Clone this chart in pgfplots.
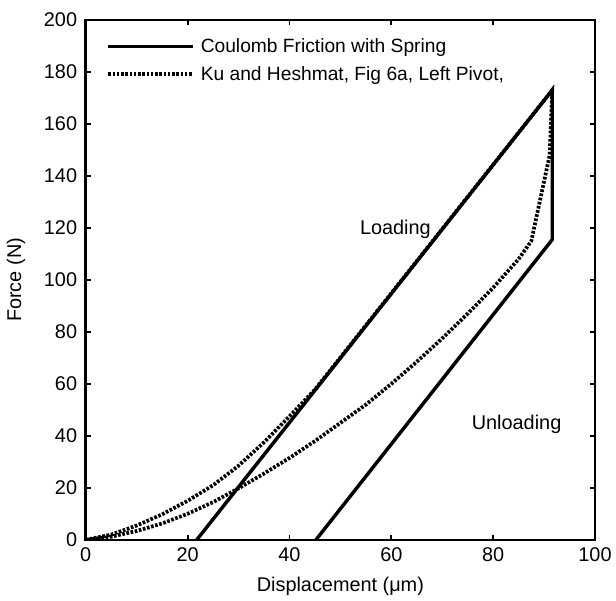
\documentclass[border=0pt]{standalone}
\usepackage{pgfplots}
\pgfplotsset{compat=1.18}
\usepackage{fontspec}
\setmainfont{Liberation Sans}
\begin{document}
\begin{tikzpicture}
\begin{axis}[
  name=main,
  scale only axis,
  width=383bp, height=391bp,
  xmin=0, xmax=100, ymin=0, ymax=200,
  xtick={0,20,...,100}, ytick={0,20,...,200},
  tick align=inside,
  major tick length=4bp,
  every tick/.style={line width=1.4bp, black},
  axis line style={line width=2bp},
  tick label style={font=\fontsize{15}{18}\selectfont},
  xticklabel style={yshift=-2.5bp},
  yticklabel style={xshift=-3bp},
  /pgf/number format/assume math mode=true,
  label style={font=\fontsize{15}{18}\selectfont},
  xlabel={Displacement (μm)},
  ylabel={Force (N)},
  xlabel style={at={(axis description cs:0.5,-0.0895)}, anchor=center},
  ylabel style={at={(axis description cs:-0.137,0.5)}, anchor=center},
  legend style={at={(0.04,0.975)}, anchor=north west, draw=none, fill=none,
    font=\fontsize{14.5}{17}\selectfont, row sep=5bp, inner xsep=0bp},
  legend cell align=left,
  legend image code/.code={\draw[#1] (0cm,0cm) -- (2.25cm,0cm);},
]
\addplot[black, line width=2.6bp] coordinates {
 (21.8,0) (91.6,173) (91.6,115.5) (45.2,0)
};
\addlegendentry{\,Coulomb Friction with Spring}
\addplot[black, line width=2.8bp, dash pattern=on 2bp off 1.2bp] coordinates {
 (0,0) (5,2.0) (10,5.5) (15,9.8) (20,15) (25,21) (30,28.5) (35,37.5) (40,47.5) (45,57.8) (91.6,173)
 (91.1,148) (87.5,115) (85,108) (80,97) (75,87) (70,77.5) (65,68.5) (60,60) (55,52) (50,45) (45,38) (40,31.5) (35,25.5) (30,19.8) (25,14.5) (20,10) (15,6.3) (10,3.4) (5,1.2) (0,0)
};
\addlegendentry{\,Ku and Heshmat, Fig 6a, Left Pivot,}
\node[font=\fontsize{15}{18}\selectfont] at (axis cs:60.8,119.5) {Loading};
\node[font=\fontsize{15}{18}\selectfont] at (axis cs:84.6,44.5) {Unloading};
\end{axis}
\path ([shift={(-64.5bp,-45bp)}]main.south west) rectangle ([shift={(14bp,15bp)}]main.north east);
\end{tikzpicture}
\end{document}
